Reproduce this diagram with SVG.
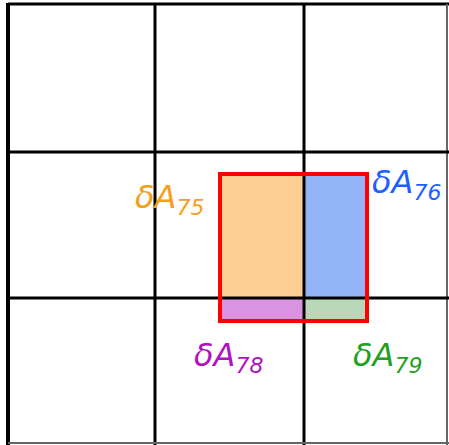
<svg xmlns="http://www.w3.org/2000/svg" width="449" height="445" viewBox="0 0 449 445">
<style>
.grid{stroke:#000;stroke-width:3;fill:none}
.lbl{font-family:"DejaVu Sans",sans-serif;font-style:oblique;font-size:32px}
.sub{font-size:22px}
</style>
<rect width="449" height="445" fill="#fff"/>
<g id="cells">
<rect x="220" y="174" width="84" height="124" fill="#FDCF93"/>
<rect x="304" y="174" width="63" height="124" fill="#94B4F8"/>
<rect x="220" y="298" width="84" height="23" fill="#D894E0"/>
<rect x="304" y="298" width="63" height="23" fill="#B8D8B8"/>
</g>
<g id="grid">
<line class="grid" x1="8" y1="4" x2="449" y2="4"/>
<line x1="8" y1="3" x2="8" y2="445" stroke="#000" stroke-width="4"/>
<line class="grid" x1="155" y1="4" x2="155" y2="445"/>
<line class="grid" x1="304" y1="4" x2="304" y2="445"/>
<line x1="447" y1="4" x2="447" y2="445" stroke="#666" stroke-width="2"/>
<line class="grid" x1="8" y1="152" x2="449" y2="152"/>
<line class="grid" x1="8" y1="298" x2="449" y2="298"/>
<line x1="8" y1="443" x2="449" y2="443" stroke="#666" stroke-width="2"/>
</g>
<g id="box">
<rect x="220" y="174" width="147" height="147" fill="none" stroke="#FF0000" stroke-width="4"/>
</g>
<g id="labels">
<text class="lbl" x="135" y="208" fill="#F5A019">δA<tspan class="sub" dy="7">75</tspan></text>
<text class="lbl" x="372" y="193" fill="#1F5FFF">δA<tspan class="sub" dy="7">76</tspan></text>
<text class="lbl" x="194" y="366" fill="#B014C0">δA<tspan class="sub" dy="7">78</tspan></text>
<text class="lbl" x="353" y="366" fill="#1FA01F">δA<tspan class="sub" dy="7">79</tspan></text>
</g>
</svg>
